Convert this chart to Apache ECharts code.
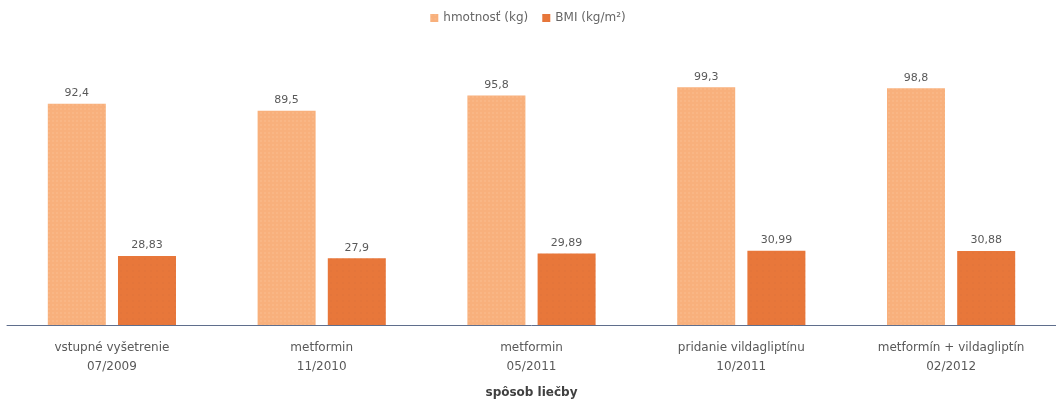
<!DOCTYPE html>
<html>
<head>
<meta charset="utf-8">
<script src="https://cdn.jsdelivr.net/npm/echarts@6/dist/echarts.min.js"></script>
<style>html,body{margin:0;padding:0;background:#fff}#c{width:1056px;height:404px}</style>
</head>
<body>
<div id="c"></div>
<script>
var categories = ['vstupné vyšetrenie\n07/2009', 'metformin\n11/2010', 'metformin\n05/2011', 'pridanie vildagliptínu\n10/2011', 'metformín + vildagliptín\n02/2012'];
var seriesNames = ['hmotnosť (kg)', 'BMI (kg/m²)'];
var weight = [92.4, 89.5, 95.8, 99.3, 98.8];
var bmi = [28.83, 27.9, 29.89, 30.99, 30.88];
var axisTitle = 'spôsob liečby';

var fmt = function (p) { return String(p.value).replace('.', ','); };
var chart = echarts.init(document.getElementById('c'));
chart.setOption({
  animation: false,
  aria: { enabled: true, decal: { show: true } },
  legend: {
    top: 7, left: 'center', itemWidth: 8, itemHeight: 8, itemGap: 14, icon: 'rect',
    textStyle: { fontFamily: 'DejaVu Sans', fontSize: 12, color: '#666' },
    data: seriesNames
  },
  grid: { left: 7, right: -3, top: 85.5, bottom: 78, containLabel: false },
  xAxis: {
    type: 'category', data: categories,
    axisTick: { show: false },
    axisLine: { lineStyle: { color: '#5f6e8c', width: 1 } },
    axisLabel: { fontFamily: 'DejaVu Sans', fontSize: 12, color: '#595959', lineHeight: 19, margin: 13 },
    name: axisTitle, nameLocation: 'middle', nameGap: 62,
    nameTextStyle: { fontFamily: 'DejaVu Sans', fontSize: 12, fontWeight: 'bold', color: '#404040' }
  },
  yAxis: { type: 'value', min: 0, max: 100, show: false, splitLine: { show: false } },
  series: [
    {
      name: seriesNames[0], type: 'bar', data: weight, barWidth: 58, barGap: '21%',
      itemStyle: {
        color: '#F8B07C',
        decal: { symbol: 'rect', symbolSize: 0.5, dashArrayX: [[2, 2]], dashArrayY: [2, 2], color: 'rgba(255,225,190,0.55)', rotation: 0 }
      },
      label: { show: true, position: 'top', distance: 5, formatter: fmt, fontFamily: 'DejaVu Sans', fontSize: 11, color: '#595959' }
    },
    {
      name: seriesNames[1], type: 'bar', data: bmi, barWidth: 58,
      itemStyle: {
        color: '#E8773A',
        decal: { symbol: 'rect', symbolSize: 0.5, dashArrayX: [[2, 4]], dashArrayY: [2, 4], color: 'rgba(200,110,70,0.5)', rotation: 0 }
      },
      label: { show: true, position: 'top', distance: 5, formatter: fmt, fontFamily: 'DejaVu Sans', fontSize: 11, color: '#595959' }
    }
  ]
});
</script>
</body>
</html>
